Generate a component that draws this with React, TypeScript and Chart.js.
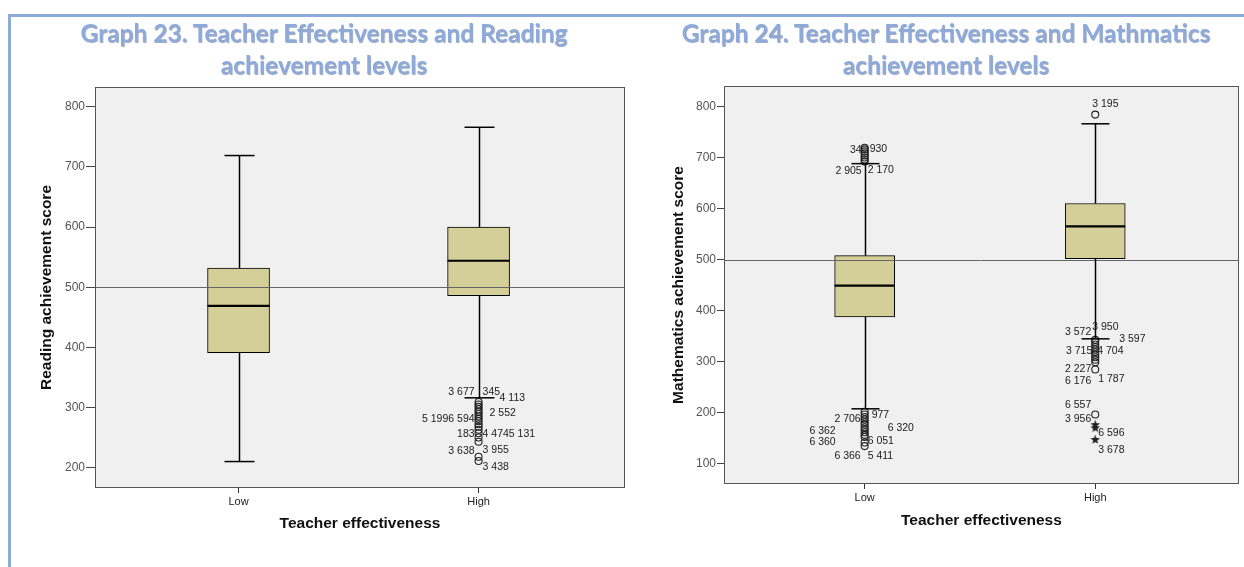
import React, { useEffect, useRef } from "react";
import { Chart, registerables } from "chart.js";
Chart.register(...registerables);

// ---------- DATA ----------
const categories = ["Low", "High"];
const readingTicks = [200, 300, 400, 500, 600, 700, 800];
const mathTicks = [100, 200, 300, 400, 500, 600, 700, 800];

// five-number summaries: [lower whisker, Q1, median, Q3, upper whisker]
const readingLow = [210, 391, 469, 532, 719];
const readingHigh = [316, 486, 544, 600, 766];
const mathLow = [208, 388, 449, 508, 688];
const mathHigh = [345, 502, 565, 610, 766];

const readingHighOutliers = [309, 305, 301, 297, 293, 289, 285, 281, 277, 272, 268, 263, 257, 250, 243, 218, 211];
const mathLowOutliersTop = [719, 716, 712, 708, 704, 700, 696, 692];
const mathLowOutliersBottom = [202, 197, 192, 187, 182, 177, 172, 167, 162, 157, 153, 142, 135];
const mathHighOutliersTop = [784];
const mathHighOutliersBottom = [343, 339, 334, 329, 324, 319, 314, 309, 304, 299, 285, 197];
const mathHighExtremes = [177, 171, 148];

// case labels: [text, category (1=Low, 2=High), value]
const readingLabels: [string, number, number][] = [
  ["3 677", 2, 326], ["345", 2, 326], ["4 113", 2, 315], ["2 552", 2, 291],
  ["5 1996 594", 2, 280], ["183", 2, 256], ["4 4745 131", 2, 256],
  ["3 638", 2, 228], ["3 955", 2, 229], ["3 438", 2, 200],
];
const mathLabels: [string, number, number][] = [
  ["34", 1, 715], ["930", 1, 716], ["2 905", 1, 674], ["2 170", 1, 676],
  ["2 706", 1, 187], ["977", 1, 195], ["6 362", 1, 165], ["6 320", 1, 171],
  ["6 360", 1, 142], ["6 051", 1, 144], ["6 366", 1, 116], ["5 411", 1, 116],
  ["3 195", 2, 805],
  ["3 572", 2, 359], ["3 950", 2, 367], ["3 597", 2, 345], ["3 715", 2, 320],
  ["4 704", 2, 320], ["2 227", 2, 285], ["6 176", 2, 263], ["1 787", 2, 267],
  ["6 557", 2, 216], ["3 956", 2, 187], ["6 596", 2, 161], ["3 678", 2, 128],
];

// ---------- LAYOUT (label horizontal placement relative to whisker) ----------
type Place = { dx: number; align: "left" | "right" };
const readingLabelPlace: Place[] = [
  { dx: -4, align: "right" }, { dx: 4, align: "left" }, { dx: 21, align: "left" }, { dx: 11, align: "left" },
  { dx: -4, align: "right" }, { dx: -4, align: "right" }, { dx: 4, align: "left" },
  { dx: -4, align: "right" }, { dx: 4, align: "left" }, { dx: 4, align: "left" },
];
const mathLabelPlace: Place[] = [
  { dx: -3, align: "right" }, { dx: 5, align: "left" }, { dx: -3, align: "right" }, { dx: 3, align: "left" },
  { dx: -4, align: "right" }, { dx: 7, align: "left" }, { dx: -29, align: "right" }, { dx: 23, align: "left" },
  { dx: -29, align: "right" }, { dx: 3, align: "left" }, { dx: -4, align: "right" }, { dx: 3, align: "left" },
  { dx: -3, align: "left" },
  { dx: -4, align: "right" }, { dx: -3, align: "left" }, { dx: 24, align: "left" }, { dx: -3, align: "right" },
  { dx: 2, align: "left" }, { dx: -4, align: "right" }, { dx: -4, align: "right" }, { dx: 3, align: "left" },
  { dx: -4, align: "right" }, { dx: -4, align: "right" }, { dx: 3, align: "left" }, { dx: 3, align: "left" },
];

const FONT = "'Liberation Sans', Arial, sans-serif";
const BOX_FILL = "#d4cf98";

// filled five-point star marker for extreme values
function makeStar(): HTMLCanvasElement {
  const c = document.createElement("canvas");
  c.width = 11;
  c.height = 11;
  const g = c.getContext("2d")!;
  g.fillStyle = "#222";
  g.beginPath();
  for (let k = 0; k < 10; k++) {
    const r = k % 2 === 0 ? 5 : 2.1;
    const ang = -Math.PI / 2 + (k * Math.PI) / 5;
    const px = 5.5 + r * Math.cos(ang);
    const py = 5.8 + r * Math.sin(ang);
    if (k === 0) g.moveTo(px, py);
    else g.lineTo(px, py);
  }
  g.closePath();
  g.fill();
  return c;
}

type Spec = {
  width: number;
  summaries: number[][];
  outliers: { cat: number; values: number[]; style: string }[];
  labels: [string, number, number][];
  places: Place[];
  yTicks: number[];
  yMin: number; yMax: number; xMin: number; xMax: number;
  yTitle: string;
  padding: { left: number; right: number; top: number; bottom: number };
  yAxisWidth: number;
  yTickLen: number;
  xTitleBottom: number;
  capHalf: number;
  boxWidth: number;
};

function makePlugin(spec: Spec) {
  return {
    id: "spssBox",
    beforeDraw(chart: any) {
      const { ctx, chartArea: a } = chart;
      ctx.save();
      ctx.fillStyle = "#f0f0f0";
      ctx.fillRect(a.left, a.top, a.width, a.height);
      ctx.restore();
    },
    afterDatasetsDraw(chart: any) {
      const { ctx, chartArea: a } = chart;
      const xs = chart.scales.x;
      const ys = chart.scales.y;
      const bars = chart.getDatasetMeta(0).data;
      ctx.save();
      // reference line at 500
      ctx.strokeStyle = "#666";
      ctx.lineWidth = 1;
      const yr = Math.round(ys.getPixelForValue(500)) + 0.5;
      ctx.beginPath();
      ctx.moveTo(a.left, yr);
      ctx.lineTo(a.right, yr);
      ctx.stroke();

      const line = (x1: number, y1: number, x2: number, y2: number) => {
        ctx.beginPath();
        ctx.moveTo(x1, y1);
        ctx.lineTo(x2, y2);
        ctx.stroke();
      };
      spec.summaries.forEach((s, i) => {
        const px = Math.round(xs.getPixelForValue(i + 1)) + 0.5;
        const [mn, q1, md, q3, mx] = s;
        ctx.strokeStyle = "#000";
        ctx.lineWidth = 1.5;
        line(px, ys.getPixelForValue(q3), px, ys.getPixelForValue(mx));
        line(px, ys.getPixelForValue(q1), px, ys.getPixelForValue(mn));
        line(px - spec.capHalf, ys.getPixelForValue(mx), px + spec.capHalf, ys.getPixelForValue(mx));
        line(px - spec.capHalf, ys.getPixelForValue(mn), px + spec.capHalf, ys.getPixelForValue(mn));
        const half = bars[i].width / 2;
        ctx.lineWidth = 2.2;
        line(bars[i].x - half, ys.getPixelForValue(md), bars[i].x + half, ys.getPixelForValue(md));
      });

      // case labels
      ctx.fillStyle = "#222";
      ctx.font = `10.5px ${FONT}`;
      ctx.textBaseline = "middle";
      spec.labels.forEach((l, i) => {
        const p = spec.places[i];
        const px = xs.getPixelForValue(l[1]) + p.dx;
        ctx.textAlign = p.align;
        ctx.fillText(l[0], px, ys.getPixelForValue(l[2]));
      });

      // plot frame
      ctx.strokeStyle = "#555";
      ctx.lineWidth = 1;
      ctx.strokeRect(Math.round(a.left) + 0.5, Math.round(a.top) + 0.5, Math.round(a.width) - 1, Math.round(a.height) - 1);
      ctx.restore();
    },
  };
}

function makeConfig(spec: Spec, star: HTMLCanvasElement): any {
  return {
    type: "bar",
    data: {
      datasets: [
        {
          type: "bar",
          data: spec.summaries.map((s, i) => ({ x: i + 1, y: [s[1], s[3]] })),
          backgroundColor: BOX_FILL,
          borderColor: "#000",
          borderWidth: 1,
          borderSkipped: false,
          barThickness: spec.boxWidth,
        },
        ...spec.outliers.map((o) => ({
          type: "scatter",
          data: o.values.map((v) => ({ x: o.cat, y: v })),
          pointStyle: o.style === "star" ? star : "circle",
          radius: 3.5,
          borderColor: "#222",
          backgroundColor: "rgba(0,0,0,0)",
          borderWidth: 1.1,
        })),
      ],
    },
    options: {
      responsive: false,
      animation: false,
      layout: { padding: spec.padding },
      plugins: { legend: { display: false }, tooltip: { enabled: false }, title: { display: false } },
      scales: {
        x: {
          type: "linear",
          offset: false,
          min: spec.xMin,
          max: spec.xMax,
          afterBuildTicks: (s: any) => {
            s.ticks = categories.map((_, i) => ({ value: i + 1 }));
          },
          afterFit: (s: any) => {
            s.height = 50;
          },
          ticks: {
            callback: (v: any) => categories[v - 1],
            font: { family: FONT, size: 11 },
            color: "#222",
            padding: 2,
            autoSkip: false,
            maxRotation: 0,
          },
          grid: { offset: false, drawOnChartArea: false, tickLength: 5, color: "#333" },
          border: { display: false },
          title: {
            display: true,
            text: "Teacher effectiveness",
            font: { family: FONT, size: 15.5, weight: "bold" },
            color: "#111",
            padding: { top: 0, bottom: spec.xTitleBottom },
          },
        },
        y: {
          type: "linear",
          min: spec.yMin,
          max: spec.yMax,
          afterBuildTicks: (s: any) => {
            s.ticks = spec.yTicks.map((v) => ({ value: v }));
          },
          afterFit: (s: any) => {
            s.width = spec.yAxisWidth;
          },
          ticks: {
            font: { family: FONT, size: 12 },
            color: "#555",
            padding: 1,
          },
          grid: { drawOnChartArea: false, tickLength: spec.yTickLen, color: "#444" },
          border: { display: false },
          title: {
            display: true,
            text: spec.yTitle,
            font: { family: FONT, size: 15.5, weight: "bold" },
            color: "#111",
            padding: { top: 2, bottom: 0 },
          },
        },
      },
    },
    plugins: [makePlugin(spec)],
  };
}

const readingSpec: Spec = {
  width: 640,
  summaries: [readingLow, readingHigh],
  outliers: [{ cat: 2, values: readingHighOutliers, style: "circle" }],
  labels: readingLabels,
  places: readingLabelPlace,
  yTicks: readingTicks,
  yMin: 166, yMax: 833, xMin: 0.402, xMax: 2.61,
  yTitle: "Reading achievement score",
  padding: { left: 35, right: 15, top: 87, bottom: 29 },
  yAxisWidth: 60,
  yTickLen: 9,
  xTitleBottom: 4.7,
  capHalf: 15,
  boxWidth: 62,
};

const mathSpec: Spec = {
  width: 604,
  summaries: [mathLow, mathHigh],
  outliers: [
    { cat: 1, values: mathLowOutliersTop, style: "circle" },
    { cat: 1, values: mathLowOutliersBottom, style: "circle" },
    { cat: 2, values: mathHighOutliersTop, style: "circle" },
    { cat: 2, values: mathHighOutliersBottom, style: "circle" },
    { cat: 2, values: mathHighExtremes, style: "star" },
  ],
  labels: mathLabels,
  places: mathLabelPlace,
  yTicks: mathTicks,
  yMin: 60.8, yMax: 840, xMin: 0.39, xMax: 2.623,
  yTitle: "Mathematics achievement score",
  padding: { left: 27, right: 4, top: 86, bottom: 33 },
  yAxisWidth: 57,
  yTickLen: 7,
  xTitleBottom: 3.7,
  capHalf: 14,
  boxWidth: 60,
};

function BoxChart({ spec, left }: { spec: Spec; left: number }) {
  const ref = useRef<HTMLCanvasElement>(null);
  useEffect(() => {
    if (!ref.current) return;
    const chart = new Chart(ref.current, makeConfig(spec, makeStar()));
    return () => chart.destroy();
  }, [spec]);
  return (
    <canvas
      ref={ref}
      width={spec.width}
      height={567}
      style={{ position: "absolute", left, top: 0, width: spec.width, height: 567 }}
    />
  );
}

const titleStyle: React.CSSProperties = {
  position: "absolute",
  top: 17,
  fontFamily: "Lato, 'Open Sans', sans-serif",
  fontWeight: 700,
  fontSize: 24.5,
  lineHeight: "32px",
  color: "#8eaadb",
  textAlign: "center",
  textShadow: "0.6px 0.6px 0.8px rgba(40,60,100,0.45)",
  whiteSpace: "nowrap",
};

export default function App() {
  return (
    <div style={{ position: "absolute", left: 0, top: 0, width: 1244, height: 567, background: "#fff", overflow: "hidden" }}>
      <div style={{ position: "absolute", left: 8, top: 14, width: 1236, height: 3, background: "#8eaadb" }} />
      <div style={{ position: "absolute", left: 8, top: 14, width: 3, height: 553, background: "#8eaadb" }} />
      <BoxChart spec={readingSpec} left={0} />
      <BoxChart spec={mathSpec} left={640} />
      <div style={{ ...titleStyle, left: 4, width: 640 }}>
        Graph 23. Teacher Effectiveness and Reading
        <br />
        achievement levels
      </div>
      <div style={{ ...titleStyle, left: 646, width: 600 }}>
        Graph 24. Teacher Effectiveness and Mathmatics
        <br />
        achievement levels
      </div>
    </div>
  );
}
